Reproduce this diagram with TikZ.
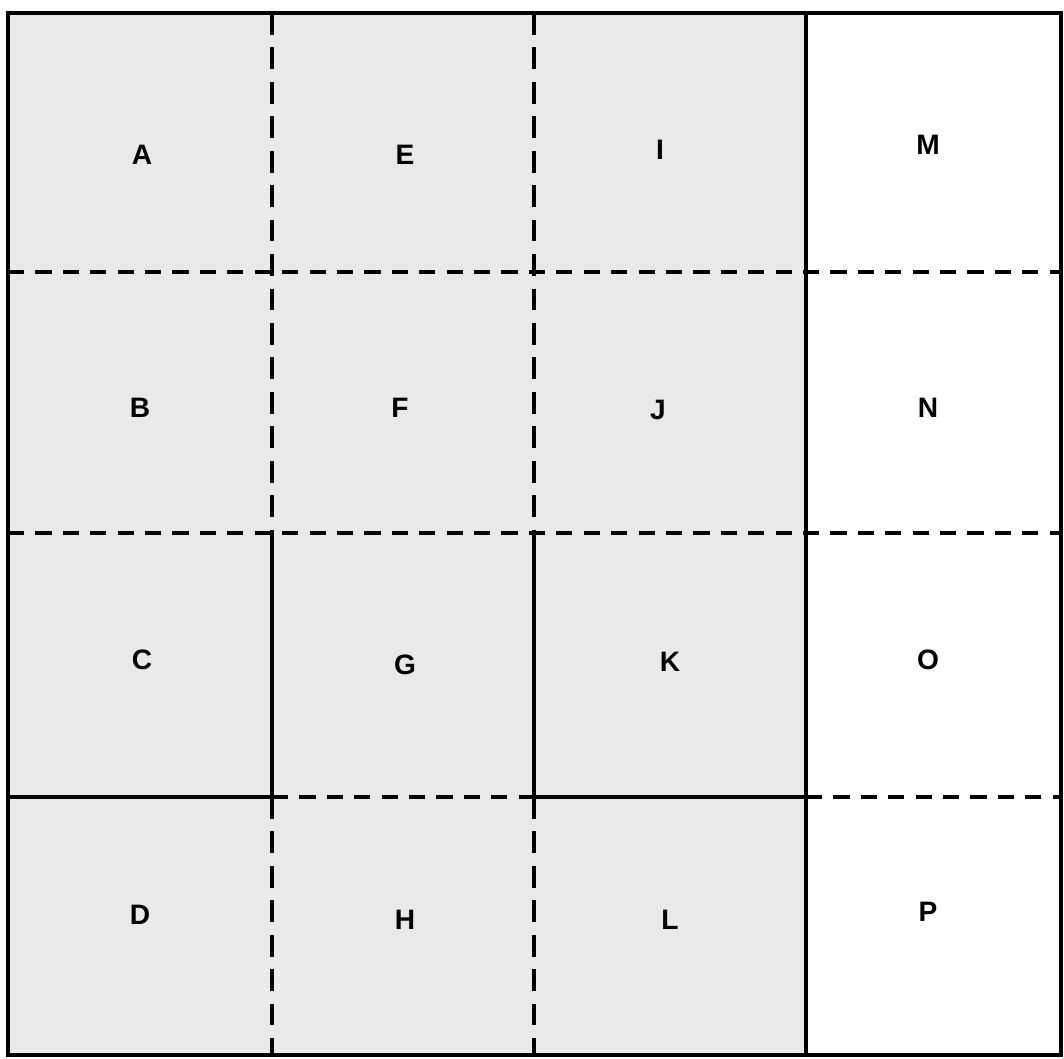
\documentclass[tikz,border=0pt]{standalone}
\usepackage{fontspec}
\setmainfont{Liberation Sans}
\definecolor{panel}{RGB}{233,233,233}

\begin{document}
\begin{tikzpicture}[x=1cm,y=1cm,
  every node/.style={font=\fontsize{8}{9}\selectfont\bfseries},
  wall/.style={black,line width=1.1pt},
  seam/.style={black,line width=1.0pt,dash pattern=on 4.6pt off 3.2pt},
  upseam/.style={black,line width=1.0pt,dash pattern=on 6.2pt off 3.6pt}]
\useasboundingbox (0,0) rectangle (10.64,-10.59);
\fill[white] (0,0) rectangle (10.64,-10.59);
\fill[panel] (0.08,-0.13) rectangle (8.06,-10.55);
% dashed seams
\draw[seam] (0.08,-2.72) -- (10.61,-2.72);
\draw[seam] (0.08,-5.33) -- (10.61,-5.33);
\draw[seam] (2.72,-7.97) -- (5.34,-7.97);
\draw[seam] (8.06,-7.97) -- (10.61,-7.97);
\draw[upseam] (2.72,-0.13) -- (2.72,-5.33);
\draw[upseam] (2.72,-7.97) -- (2.72,-10.55);
\draw[upseam] (5.34,-0.13) -- (5.34,-5.33);
\draw[upseam] (5.34,-7.97) -- (5.34,-10.55);
% solid walls
\draw[wall] (0.08,-7.97) -- (2.72,-7.97);
\draw[wall] (5.34,-7.97) -- (8.06,-7.97);
\draw[wall] (2.72,-5.33) -- (2.72,-7.97);
\draw[wall] (5.34,-5.33) -- (5.34,-7.97);
\draw[wall] (8.06,-0.13) -- (8.06,-10.55);
\draw[wall] (0.08,-0.13) rectangle (10.61,-10.55);
% cell letters
\node (A) at (1.42,-1.55) {A};
\node (E) at (4.05,-1.55) {E};
\node (I) at (6.60,-1.50) {I};
\node (M) at (9.28,-1.45) {M};
\node (B) at (1.40,-4.08) {B};
\node (F) at (4.00,-4.08) {F};
\node (J) at (6.58,-4.10) {J};
\node (N) at (9.28,-4.08) {N};
\node (C) at (1.42,-6.60) {C};
\node (G) at (4.05,-6.65) {G};
\node (K) at (6.70,-6.62) {K};
\node (O) at (9.28,-6.60) {O};
\node (D) at (1.40,-9.15) {D};
\node (H) at (4.05,-9.20) {H};
\node (L) at (6.70,-9.20) {L};
\node (P) at (9.28,-9.12) {P};
\end{tikzpicture}
\end{document}
